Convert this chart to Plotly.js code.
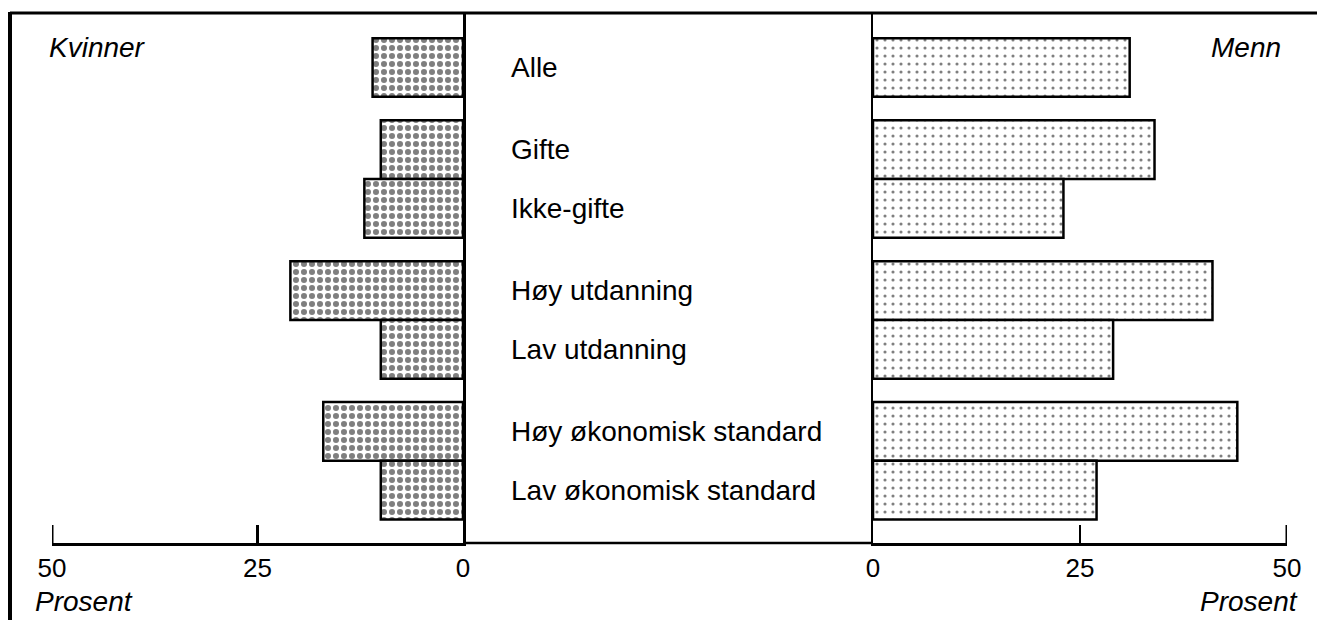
<!DOCTYPE html>
<html>
<head>
<meta charset="utf-8">
<script src="https://cdn.plot.ly/plotly-3.0.1.min.js"></script>
<style>html,body{margin:0;padding:0;background:#fff;}#chart{width:1317px;height:620px;}</style>
</head>
<body>
<div id="chart"></div>
<script>
// ---- data ----
const categories = ["Alle", "Gifte", "Ikke-gifte", "Høy utdanning", "Lav utdanning", "Høy økonomisk standard", "Lav økonomisk standard"];
const groupOf = [0, 1, 1, 2, 2, 3, 3];
const kvinner = [11, 10, 12, 21, 10, 17, 10];
const menn = [31, 34, 23, 41, 29, 44, 27];
const tickVals = [0, 25, 50];
const tickText = ["0", "25", "50"];

// ---- layout helpers ----
const W = 1317, H = 620;
const px = v => v / W;
const py = v => (H - v) / H;
const pos = categories.map((c, i) => i + 0.4 * groupOf[i]);
const yRange = [8.1, -0.9455];
const yDomain = [py(543), py(12)];
const FONT = "Liberation Sans, Arial, Helvetica, sans-serif";

const traces = [
  {
    type: "bar", orientation: "h", x: kvinner, y: pos, width: 1,
    xaxis: "x", yaxis: "y", hoverinfo: "none",
    marker: { color: "white", line: { color: "black", width: 2.5 },
      pattern: { shape: ".", fgcolor: "black", bgcolor: "white", size: 8, solidity: 0.45, fillmode: "overlay" } }
  },
  {
    type: "bar", orientation: "h", x: menn, y: pos, width: 1,
    xaxis: "x2", yaxis: "y2", hoverinfo: "none",
    marker: { color: "white", line: { color: "black", width: 2.5 },
      pattern: { shape: ".", fgcolor: "black", bgcolor: "white", size: 8, solidity: 0.12, fillmode: "overlay" } }
  }
];

const xCommon = {
  tickvals: tickVals, ticktext: tickText, ticks: "inside", ticklen: 18, tickwidth: 2.5, tickcolor: "black",
  showline: true, linewidth: 2.5, linecolor: "black", showgrid: false, zeroline: false,
  tickfont: { family: FONT, size: 26, color: "black" }, fixedrange: true
};
const yCommon = {
  range: yRange, domain: yDomain, showline: true, linewidth: 2.5, linecolor: "black",
  showgrid: false, zeroline: false, showticklabels: false, ticks: "", fixedrange: true
};

const annotations = categories.map((c, i) => ({
  text: c, x: px(509), xref: "paper", y: pos[i], yref: "y", xanchor: "left", yanchor: "middle",
  showarrow: false, font: { family: FONT, size: 28, color: "black" }
}));
annotations.push(
  { text: "<i>Kvinner</i>", x: px(47), y: py(47), xref: "paper", yref: "paper", xanchor: "left", yanchor: "middle", showarrow: false, font: { family: FONT, size: 28, color: "black" } },
  { text: "<i>Menn</i>", x: px(1283), y: py(47), xref: "paper", yref: "paper", xanchor: "right", yanchor: "middle", showarrow: false, font: { family: FONT, size: 28, color: "black" } },
  { text: "<i>Prosent</i>", x: px(33), y: py(601), xref: "paper", yref: "paper", xanchor: "left", yanchor: "middle", showarrow: false, font: { family: FONT, size: 28, color: "black" } },
  { text: "<i>Prosent</i>", x: px(1300), y: py(601), xref: "paper", yref: "paper", xanchor: "right", yanchor: "middle", showarrow: false, font: { family: FONT, size: 28, color: "black" } }
);

// end ticks at 50 on both axes (drawn through the axis scales)
const endTicks = [
  { type: "line", xref: "x", yref: "paper", x0: 50, x1: 50, y0: py(543), y1: py(525), line: { color: "black", width: 3 } },
  { type: "line", xref: "x2", yref: "paper", x0: 50, x1: 50, y0: py(543), y1: py(525), line: { color: "black", width: 3 } }
];

const layout = {
  width: W, height: H, margin: { l: 0, r: 0, t: 0, b: 0 },
  paper_bgcolor: "white", plot_bgcolor: "white", showlegend: false, bargap: 0,
  xaxis: Object.assign({}, xCommon, { domain: [px(52), px(463)], range: [50, 0], anchor: "y" }),
  yaxis: Object.assign({}, yCommon, { anchor: "x", side: "right" }),
  xaxis2: Object.assign({}, xCommon, { domain: [px(873), px(1287)], range: [0, 50], anchor: "y2" }),
  yaxis2: Object.assign({}, yCommon, { anchor: "x2", side: "left" }),
  annotations: annotations,
  shapes: [
    { type: "line", xref: "paper", yref: "paper", x0: px(10), x1: 1, y0: py(13), y1: py(13), line: { color: "black", width: 3 } },
    { type: "line", xref: "paper", yref: "paper", x0: px(10), x1: px(10), y0: 0, y1: py(12), line: { color: "black", width: 4 } },
    { type: "line", xref: "paper", yref: "paper", x0: px(463), x1: px(873), y0: py(543), y1: py(543), line: { color: "black", width: 2.5 } }
  ].concat(endTicks)
};

Plotly.newPlot("chart", traces, layout, { staticPlot: true, displayModeBar: false });
</script>
</body>
</html>
